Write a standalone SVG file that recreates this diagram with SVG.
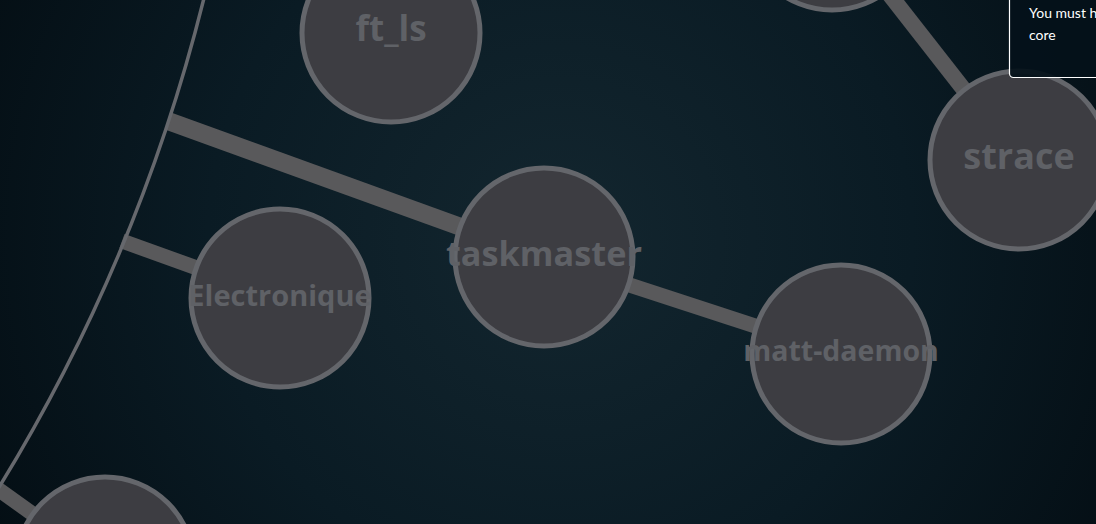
<svg xmlns="http://www.w3.org/2000/svg" width="1096" height="524" viewBox="0 0 1096 524">
<defs>
<radialGradient id="bg" gradientUnits="userSpaceOnUse" cx="560" cy="240" r="640">
<stop offset="0" stop-color="#13262f"/>
<stop offset="0.55" stop-color="#0a1b24"/>
<stop offset="1" stop-color="#040e14"/>
</radialGradient>
<style>
.link{stroke:#59595b;fill:none;stroke-linecap:butt}
.node circle{fill:#3d3d42;stroke:#64666b;stroke-width:5}
.node text{fill:#5f6166;font-family:"Open Sans",sans-serif;font-weight:700;text-anchor:middle}
.ring{fill:none;stroke:#66686d;stroke-width:3.5}
.tip{font-family:Lato,"Liberation Sans",sans-serif;font-size:14px;fill:#ffffff}
</style>
</defs>
<rect width="1096" height="524" fill="url(#bg)"/>
<g id="connectors">
<line class="link" x1="168" y1="121" x2="544" y2="257" stroke-width="18"/>
<line class="link" x1="544" y1="257" x2="841" y2="354" stroke-width="15"/>
<line class="link" x1="122" y1="241" x2="280" y2="298" stroke-width="15"/>
<line class="link" x1="-2" y1="489" x2="105" y2="566" stroke-width="15"/>
<line class="link" x1="832" y1="-79" x2="1019" y2="160" stroke-width="16"/>
</g>
<path id="ring" class="ring" d="M 206 -10 A 1745 1745 0 0 1 -28 530"/>
<g id="node-top" class="node"><circle cx="832" cy="-79" r="89"/></g>
<g id="node-ft_ls" class="node"><circle cx="391" cy="33" r="89"/><text x="391" y="41" font-size="35">ft_ls</text></g>
<g id="node-taskmaster" class="node"><circle cx="544" cy="257" r="89"/><text x="544" y="266" font-size="34.3">taskmaster</text></g>
<g id="node-electronique" class="node"><circle cx="280" cy="298" r="89"/><text x="280" y="306" font-size="29">Electronique</text></g>
<g id="node-matt-daemon" class="node"><circle cx="841" cy="354" r="89"/><text x="841" y="361" font-size="28.5">matt-daemon</text></g>
<g id="node-strace" class="node"><circle cx="1019" cy="160" r="89"/><text x="1019" y="169" font-size="36">strace</text></g>
<g id="node-bottom" class="node"><circle cx="105" cy="566" r="89"/></g>
<g id="tooltip">
<rect x="1009.5" y="-10" width="110" height="87.5" rx="4" fill="#04111a" fill-opacity="0.93" stroke="#ffffff" stroke-width="1.2"/>
<text class="tip" x="1029" y="18">You must have</text>
<text class="tip" x="1029" y="40">core</text>
</g>
</svg>
